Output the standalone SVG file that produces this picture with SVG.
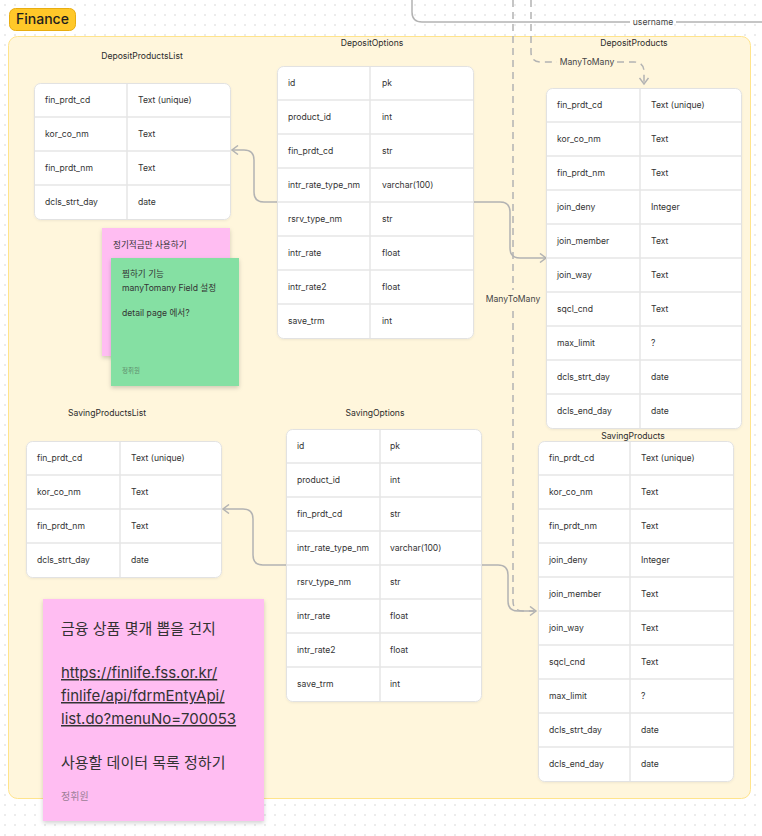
<svg xmlns="http://www.w3.org/2000/svg" width="762" height="836" viewBox="0 0 762 836">
<defs>
<pattern id="dots" width="10" height="10" patternUnits="userSpaceOnUse"><circle cx="5" cy="5" r="0.7" fill="#c9c9c9"/></pattern>
<filter id="sh" x="-10%" y="-10%" width="130%" height="130%"><feDropShadow dx="0" dy="2" stdDeviation="2" flood-color="#000" flood-opacity="0.18"/></filter>
<filter id="tsh" x="-5%" y="-5%" width="110%" height="110%"><feDropShadow dx="0" dy="1" stdDeviation="1" flood-color="#000" flood-opacity="0.06"/></filter>
<marker id="arr" markerWidth="10" markerHeight="10" refX="8" refY="5" orient="auto" markerUnits="userSpaceOnUse"><path d="M2,0.5 L8,5 L2,9.5" fill="none" stroke="#b3b3b3" stroke-width="1.5"/></marker>
<style>
text{font-family:Inter,"Noto Sans CJK KR","Liberation Sans",sans-serif;fill:#333}
.t{font-size:8.6px}
.ttl{font-size:8.6px;text-anchor:middle;fill:#2b2b2b}
.tbl{fill:#fff;stroke:#e2e2e2;stroke-width:1}
.ln{stroke:#e6e6e6;stroke-width:1.5}
.cn{fill:none;stroke:#b3b3b3;stroke-width:1.5}
.dash{stroke-dasharray:7 5}
.lbl{font-size:8.6px;text-anchor:middle;fill:#444}
.sm{font-size:8.6px}
.big{font-size:15px}
</style>
</defs>
<rect width="762" height="836" fill="#fff"/>
<rect width="762" height="836" fill="url(#dots)"/>

<g id="frame">
<rect x="8.5" y="36.5" width="742" height="762" rx="9" fill="#fff6dc" stroke="#ffe48c" stroke-width="1"/>
</g>
<g id="finance-label">
<rect x="9.5" y="8.5" width="66" height="22" rx="6" fill="#ffc829" stroke="#e8ad10" stroke-width="1"/>
<text x="42.5" y="24" style="font-size:14px;font-weight:500;text-anchor:middle;fill:#1e1e1e">Finance</text>
</g>

<g id="connectors">
<path class="cn" d="M412,0 V12 Q412,22 422,22 H630 M676,22 H762"/>
<text class="lbl" x="653" y="25">username</text>
<path class="cn dash" d="M531,0 V52 Q531,62 541,62 H557"/>
<path class="cn dash" d="M617,62 H634 Q644,62 644,72 V84" marker-end="url(#arr)"/>
<text class="lbl" x="587" y="65">ManyToMany</text>
<path class="cn dash" d="M513,0 V290"/>
<text class="lbl" x="513" y="302">ManyToMany</text>
<path class="cn dash" d="M513,311 V601 Q513,611 523,611 H534"/>
<path class="cn" d="M277,202 H264 Q254,202 254,192 V160 Q254,150 244,150 H232" marker-end="url(#arr)"/>
<path class="cn" d="M473,202 H500 Q510,202 510,212 V248 Q510,258 520,258 H546" marker-end="url(#arr)"/>
<path class="cn" d="M286,565 H263 Q253,565 253,555 V519 Q253,509 243,509 H223" marker-end="url(#arr)"/>
<path class="cn" d="M481,565 H498 Q508,565 508,575 V601 Q508,611 518,611 H536" marker-end="url(#arr)"/>
</g>

<g id="DepositProductsList">
<text class="ttl" x="142" y="59">DepositProductsList</text>
<rect class="tbl" x="34.5" y="83.5" width="196" height="136" rx="6" filter="url(#tsh)"/>
<path class="ln" d="M35,117 H230 M35,151 H230 M35,185 H230 M127,84 V219"/>
<text class="t" x="45" y="103">fin_prdt_cd</text><text class="t" x="138" y="103">Text (unique)</text>
<text class="t" x="45" y="137">kor_co_nm</text><text class="t" x="138" y="137">Text</text>
<text class="t" x="45" y="171">fin_prdt_nm</text><text class="t" x="138" y="171">Text</text>
<text class="t" x="45" y="205">dcls_strt_day</text><text class="t" x="138" y="205">date</text>
</g>

<g id="DepositOptions">
<text class="ttl" x="372" y="46">DepositOptions</text>
<rect class="tbl" x="277.5" y="66.5" width="196" height="272" rx="6" filter="url(#tsh)"/>
<path class="ln" d="M278,100 H473 M278,134 H473 M278,168 H473 M278,202 H473 M278,236 H473 M278,270 H473 M278,304 H473 M370,67 V338"/>
<text class="t" x="288" y="86">id</text><text class="t" x="382" y="86">pk</text>
<text class="t" x="288" y="120">product_id</text><text class="t" x="382" y="120">int</text>
<text class="t" x="288" y="154">fin_prdt_cd</text><text class="t" x="382" y="154">str</text>
<text class="t" x="288" y="188">intr_rate_type_nm</text><text class="t" x="382" y="188">varchar(100)</text>
<text class="t" x="288" y="222">rsrv_type_nm</text><text class="t" x="382" y="222">str</text>
<text class="t" x="288" y="256">intr_rate</text><text class="t" x="382" y="256">float</text>
<text class="t" x="288" y="290">intr_rate2</text><text class="t" x="382" y="290">float</text>
<text class="t" x="288" y="324">save_trm</text><text class="t" x="382" y="324">int</text>
</g>

<g id="DepositProducts">
<text class="ttl" x="634" y="46">DepositProducts</text>
<rect class="tbl" x="546.5" y="88.5" width="195" height="340" rx="6" filter="url(#tsh)"/>
<path class="ln" d="M547,122 H741 M547,156 H741 M547,190 H741 M547,224 H741 M547,258 H741 M547,292 H741 M547,326 H741 M547,360 H741 M547,394 H741 M640,89 V428"/>
<text class="t" x="557" y="108">fin_prdt_cd</text><text class="t" x="651" y="108">Text (unique)</text>
<text class="t" x="557" y="142">kor_co_nm</text><text class="t" x="651" y="142">Text</text>
<text class="t" x="557" y="176">fin_prdt_nm</text><text class="t" x="651" y="176">Text</text>
<text class="t" x="557" y="210">join_deny</text><text class="t" x="651" y="210">Integer</text>
<text class="t" x="557" y="244">join_member</text><text class="t" x="651" y="244">Text</text>
<text class="t" x="557" y="278">join_way</text><text class="t" x="651" y="278">Text</text>
<text class="t" x="557" y="312">sqcl_cnd</text><text class="t" x="651" y="312">Text</text>
<text class="t" x="557" y="346">max_limit</text><text class="t" x="651" y="346">?</text>
<text class="t" x="557" y="380">dcls_strt_day</text><text class="t" x="651" y="380">date</text>
<text class="t" x="557" y="414">dcls_end_day</text><text class="t" x="651" y="414">date</text>
</g>

<g id="SavingProductsList">
<text class="ttl" x="107" y="416">SavingProductsList</text>
<rect class="tbl" x="26.5" y="441.5" width="195" height="136" rx="6" filter="url(#tsh)"/>
<path class="ln" d="M27,475 H221 M27,509 H221 M27,543 H221 M120,442 V577"/>
<text class="t" x="37" y="461">fin_prdt_cd</text><text class="t" x="131" y="461">Text (unique)</text>
<text class="t" x="37" y="495">kor_co_nm</text><text class="t" x="131" y="495">Text</text>
<text class="t" x="37" y="529">fin_prdt_nm</text><text class="t" x="131" y="529">Text</text>
<text class="t" x="37" y="563">dcls_strt_day</text><text class="t" x="131" y="563">date</text>
</g>

<g id="SavingOptions">
<text class="ttl" x="375" y="416">SavingOptions</text>
<rect class="tbl" x="286.5" y="429.5" width="195" height="272" rx="6" filter="url(#tsh)"/>
<path class="ln" d="M287,463 H481 M287,497 H481 M287,531 H481 M287,565 H481 M287,599 H481 M287,633 H481 M287,667 H481 M380,430 V701"/>
<text class="t" x="297" y="449">id</text><text class="t" x="390" y="449">pk</text>
<text class="t" x="297" y="483">product_id</text><text class="t" x="390" y="483">int</text>
<text class="t" x="297" y="517">fin_prdt_cd</text><text class="t" x="390" y="517">str</text>
<text class="t" x="297" y="551">intr_rate_type_nm</text><text class="t" x="390" y="551">varchar(100)</text>
<text class="t" x="297" y="585">rsrv_type_nm</text><text class="t" x="390" y="585">str</text>
<text class="t" x="297" y="619">intr_rate</text><text class="t" x="390" y="619">float</text>
<text class="t" x="297" y="653">intr_rate2</text><text class="t" x="390" y="653">float</text>
<text class="t" x="297" y="687">save_trm</text><text class="t" x="390" y="687">int</text>
</g>

<g id="SavingProducts">
<text class="ttl" x="633" y="439">SavingProducts</text>
<rect class="tbl" x="538.5" y="441.5" width="195" height="340" rx="6" filter="url(#tsh)"/>
<path class="ln" d="M539,475 H733 M539,509 H733 M539,543 H733 M539,577 H733 M539,611 H733 M539,645 H733 M539,679 H733 M539,713 H733 M539,747 H733 M630,442 V781"/>
<text class="t" x="549" y="461">fin_prdt_cd</text><text class="t" x="641" y="461">Text (unique)</text>
<text class="t" x="549" y="495">kor_co_nm</text><text class="t" x="641" y="495">Text</text>
<text class="t" x="549" y="529">fin_prdt_nm</text><text class="t" x="641" y="529">Text</text>
<text class="t" x="549" y="563">join_deny</text><text class="t" x="641" y="563">Integer</text>
<text class="t" x="549" y="597">join_member</text><text class="t" x="641" y="597">Text</text>
<text class="t" x="549" y="631">join_way</text><text class="t" x="641" y="631">Text</text>
<text class="t" x="549" y="665">sqcl_cnd</text><text class="t" x="641" y="665">Text</text>
<text class="t" x="549" y="699">max_limit</text><text class="t" x="641" y="699">?</text>
<text class="t" x="549" y="733">dcls_strt_day</text><text class="t" x="641" y="733">date</text>
<text class="t" x="549" y="767">dcls_end_day</text><text class="t" x="641" y="767">date</text>
</g>

<g id="sticky-pink-small">
<rect x="102" y="228" width="128" height="128" fill="#ffbdf2" filter="url(#sh)"/>
<text class="sm" x="113" y="248">정기적금만 사용하기</text>
</g>
<g id="sticky-green">
<rect x="111" y="258" width="128" height="128" fill="#85e0a3" filter="url(#sh)"/>
<text class="sm" x="122" y="277">찜하기 기능</text>
<text class="sm" x="122" y="291">manyTomany Field 설정</text>
<text class="sm" x="122" y="316">detail page 에서?</text>
<text x="122" y="373" style="font-size:6.5px;fill:#5f8f6e">정휘원</text>
</g>
<g id="sticky-pink-big">
<rect x="43" y="599" width="221" height="222" fill="#ffbdf2" filter="url(#sh)"/>
<text class="big" x="61" y="634">금융 상품 몇개 뽑을 건지</text>
<text class="big" x="61" y="678" text-decoration="underline">https://finlife.fss.or.kr/</text>
<text class="big" x="61" y="701" text-decoration="underline">finlife/api/fdrmEntyApi/</text>
<text class="big" x="61" y="724" text-decoration="underline">list.do?menuNo=700053</text>
<text class="big" x="61" y="768">사용할 데이터 목록 정하기</text>
<text x="61" y="800" style="font-size:10px;fill:#9c7d96">정휘원</text>
</g>
</svg>
